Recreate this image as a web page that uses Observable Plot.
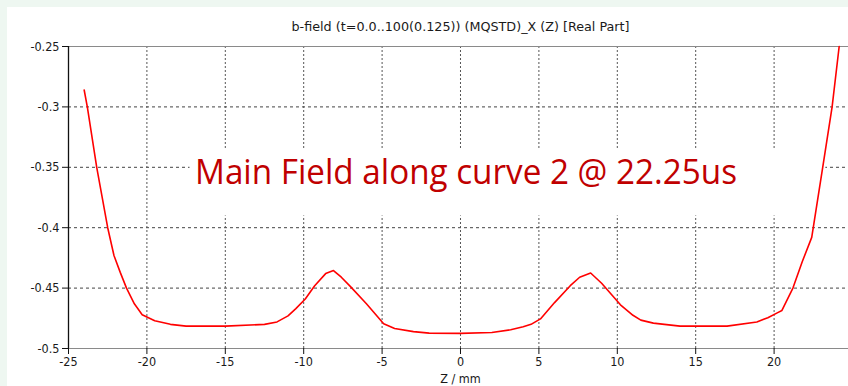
<!DOCTYPE html>
<html>
<head>
<meta charset="utf-8">
<script src="https://cdn.jsdelivr.net/npm/d3@7"></script>
<script src="https://cdn.jsdelivr.net/npm/@observablehq/plot@0.6"></script>
<style>
  html, body { margin: 0; padding: 0; background: #fff; }
  #wrap { position: relative; width: 848px; height: 386px; overflow: hidden; background: #fff; }
  #stripL { position: absolute; left: 0; top: 0; width: 7px; height: 386px; background: #eef7f1; }
  #stripT { position: absolute; left: 0; top: 0; width: 848px; height: 7px; background: #eef7f1; }
  svg { display: block; }
</style>
</head>
<body>
<div id="wrap"><div id="chart"></div><div id="stripL"></div><div id="stripT"></div></div>
<script>
const title = "b-field (t=0.0..100(0.125)) (MQSTD)_X (Z) [Real Part]";
const xLabel = "Z / mm";
const note = "Main Field along curve 2 @ 22.25us";

const zValues = [-24, -23.8, -23.2, -22.5, -22.1, -21.7, -21.3, -20.8, -20.3, -19.5, -18.5, -17.5, -15, -12.5, -11.7, -11, -10.5, -9.9, -9.3, -8.6, -8.1, -7.6, -7.0, -6, -4.9, -4.2, -3, -2, 0, 2, 3.2, 4, 4.5, 5.1, 6, 7, 7.6, 8.3, 9, 10.2, 11, 11.5, 12.3, 13, 14, 17, 18.9, 19.6, 20.2, 20.5, 21.2, 21.8, 22.4, 23.1, 23.7, 24.15];
const bValues = [-0.286, -0.300, -0.350, -0.400, -0.423, -0.437, -0.450, -0.463, -0.472, -0.477, -0.480, -0.4815, -0.4815, -0.480, -0.478, -0.473, -0.467, -0.459, -0.448, -0.438, -0.4355, -0.441, -0.449, -0.463, -0.4795, -0.4835, -0.486, -0.4873, -0.4875, -0.4868, -0.4845, -0.482, -0.480, -0.4755, -0.462, -0.448, -0.441, -0.4375, -0.446, -0.4638, -0.4725, -0.4765, -0.479, -0.480, -0.4815, -0.4815, -0.478, -0.4745, -0.4705, -0.4685, -0.450, -0.428, -0.408, -0.350, -0.300, -0.250];

const xTicks = [-25, -20, -15, -10, -5, 0, 5, 10, 15, 20];
const yTicks = [-0.25, -0.3, -0.35, -0.4, -0.45, -0.5];
const xGrid = [-20, -15, -10, -5, 0, 5, 10, 15, 20];
const yGrid = [-0.3, -0.35, -0.4, -0.45];

// annotation box (data units) and label position
const noteBox = [{x1: -17.25, x2: 23.3, y1: -0.3356, y2: -0.3903}];
const notePos = [{z: 0.35, v: -0.3545}];

const data = zValues.map((z, i) => ({z, b: bValues[i]}));

const axisFont = "Tahoma, 'DejaVu Sans Condensed', 'Liberation Sans Narrow', 'Liberation Sans', sans-serif";

const chart = Plot.plot({
  width: 848,
  height: 386,
  marginLeft: 68,
  marginRight: 0,
  marginTop: 46,
  marginBottom: 38,
  style: {background: "white", fontFamily: axisFont, fontSize: "12px", color: "#222"},
  x: {domain: [-25, 24.745]},
  y: {domain: [-0.5, -0.25]},
  marks: [
    Plot.ruleY(yGrid, {stroke: "#444", strokeWidth: 1, strokeDasharray: "3,3"}),
    Plot.ruleX(xGrid, {stroke: "#555", strokeWidth: 1, strokeDasharray: "2,2"}),
    Plot.rect(noteBox, {x1: "x1", x2: "x2", y1: "y1", y2: "y2", fill: "white"}),
    Plot.ruleY([-0.25, -0.5], {stroke: "#8a8a8a", strokeWidth: 1.2}),
    Plot.ruleX([-25], {stroke: "#111", strokeWidth: 1.3}),
    Plot.axisX({ticks: xTicks, tickSize: 6, tickPadding: 3, tickFormat: d => String(d), label: null, stroke: "#111", fill: "#1a1a1a", fontSize: 12.5}),
    Plot.axisY({ticks: yTicks, tickSize: 6, tickPadding: 3, tickFormat: d => String(d), label: null, stroke: "#111", fill: "#1a1a1a", fontSize: 12.5}),
    Plot.line(data, {x: "z", y: "b", stroke: "#ff0000", strokeWidth: 1.6}),
    Plot.text(notePos, {x: "z", y: "v", text: () => note, fill: "#c00000", fontSize: 34, fontFamily: "'Open Sans', 'Noto Sans', sans-serif", textAnchor: "middle", lineAnchor: "middle"}),
    Plot.text([title], {x: () => 0, frameAnchor: "top", dy: -19, text: d => d, fill: "#1a1a1a", fontSize: 12, textAnchor: "middle", lineAnchor: "middle"}),
    Plot.text([xLabel], {x: () => 0, frameAnchor: "bottom", dy: 30, text: d => d, fill: "#1a1a1a", fontSize: 12.5, textAnchor: "middle", lineAnchor: "middle"})
  ]
});
document.getElementById("chart").appendChild(chart);

// fit annotation and title widths to the reference
chart.querySelectorAll("text").forEach(t => {
  if (t.textContent === note) {
    t.setAttribute("textLength", 542);
    t.setAttribute("lengthAdjust", "spacingAndGlyphs");
  } else if (t.textContent === title) {
    t.setAttribute("textLength", 338);
    t.setAttribute("lengthAdjust", "spacingAndGlyphs");
  }
});
</script>
</body>
</html>
